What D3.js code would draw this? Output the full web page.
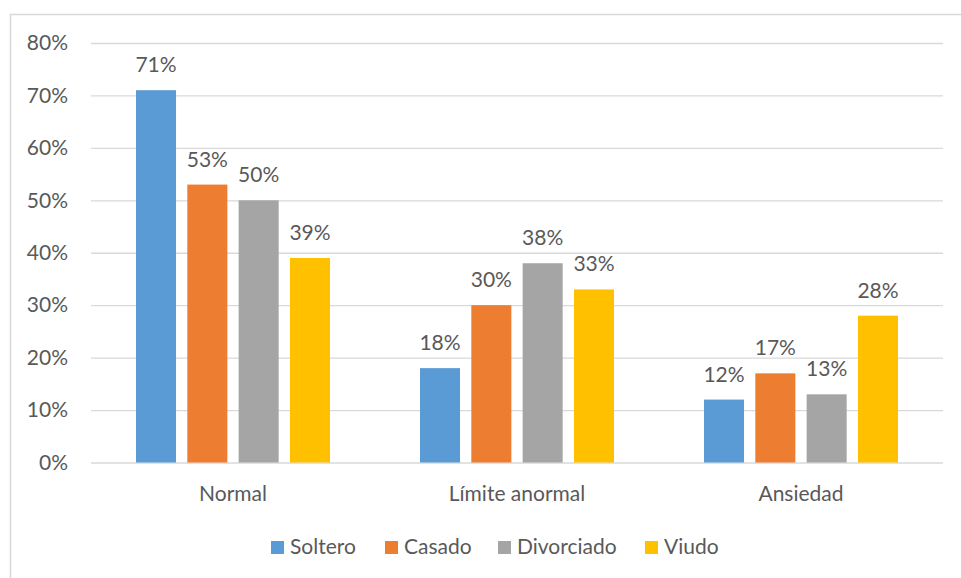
<!DOCTYPE html>
<html>
<head>
<meta charset="utf-8">
<script src="https://cdn.jsdelivr.net/npm/d3@7"></script>
<style>
  html, body { margin: 0; padding: 0; background: #fff; }
  svg { display: block; }
  text { font-family: Lato, "Open Sans", sans-serif; font-weight: 400; fill: #595959; }
</style>
</head>
<body>
<svg id="chart" width="961" height="578"></svg>
<script>
// Categories and series
const categories = ["Normal", "Límite anormal", "Ansiedad"];
const seriesNames = ["Soltero", "Casado", "Divorciado", "Viudo"];
const soltero    = [0.71, 0.18, 0.12];
const casado     = [0.53, 0.30, 0.17];
const divorciado = [0.50, 0.38, 0.13];
const viudo      = [0.39, 0.33, 0.28];
const yTicks = [0, 0.1, 0.2, 0.3, 0.4, 0.5, 0.6, 0.7, 0.8];
const colors = ["#5B9BD5", "#ED7D31", "#A5A5A5", "#FFC000"];

const seriesValues = [soltero, casado, divorciado, viudo];
const rows = categories.map((c, i) => ({
  category: c,
  values: seriesNames.map((s, j) => ({ series: s, value: seriesValues[j][i], idx: j }))
}));

const FONT_SIZE = "21px";
const svg = d3.select("#chart");

// Outer chart frame
svg.append("rect")
  .attr("x", 10.5).attr("y", 14.5)
  .attr("width", 1000).attr("height", 600)
  .attr("fill", "none")
  .attr("stroke", "#D9D9D9")
  .attr("stroke-width", 1.5);

const plot = { left: 91, right: 943, top: 43, bottom: 462.5 };

const y = d3.scaleLinear().domain([0, 0.8]).range([plot.bottom, plot.top]);
const x0 = d3.scaleBand().domain(categories).range([plot.left, plot.right]).padding(0);
const groupW = x0.bandwidth();
const innerPad = 45;
const x1 = d3.scaleBand().domain(seriesNames)
  .range([innerPad, groupW - innerPad])
  .paddingInner(0.22).paddingOuter(0);

// Gridlines and percentage ticks
const yAxis = d3.axisLeft(y)
  .tickValues(yTicks)
  .tickFormat(d3.format(".0%"))
  .tickSize(-(plot.right - plot.left))
  .tickPadding(23);

const gy = svg.append("g")
  .attr("transform", `translate(${plot.left},0)`)
  .call(yAxis);
gy.select(".domain").remove();
gy.selectAll(".tick line").attr("stroke", "#D9D9D9").attr("stroke-width", 1.3);
gy.selectAll(".tick text")
  .attr("fill", "#595959")
  .style("font-size", FONT_SIZE)
  .style("font-family", "Lato, 'Open Sans', sans-serif");

// Bars
const groups = svg.append("g").selectAll("g")
  .data(rows)
  .join("g")
  .attr("transform", d => `translate(${x0(d.category)},0)`);

groups.selectAll("rect")
  .data(d => d.values)
  .join("rect")
  .attr("x", d => x1(d.series))
  .attr("y", d => y(d.value))
  .attr("width", x1.bandwidth())
  .attr("height", d => y(0) - y(d.value))
  .attr("fill", d => colors[d.idx]);

// Value labels
groups.selectAll("text.val")
  .data(d => d.values)
  .join("text")
  .attr("class", "val")
  .attr("x", d => x1(d.series) + x1.bandwidth() / 2)
  .attr("y", d => y(d.value) - 18)
  .attr("text-anchor", "middle")
  .style("font-size", FONT_SIZE)
  .text(d => d3.format(".0%")(d.value));

// Category axis labels
svg.append("g").selectAll("text")
  .data(categories)
  .join("text")
  .attr("x", d => x0(d) + groupW / 2)
  .attr("y", 501)
  .attr("text-anchor", "middle")
  .style("font-size", FONT_SIZE)
  .text(d => d);

// Legend
const legendX = [271, 385, 498, 645];
const legend = svg.append("g").selectAll("g")
  .data(seriesNames)
  .join("g")
  .attr("transform", (d, i) => `translate(${legendX[i]},541)`);
legend.append("rect")
  .attr("width", 13).attr("height", 13)
  .attr("fill", (d, i) => colors[i]);
legend.append("text")
  .attr("x", 19).attr("y", 13)
  .style("font-size", FONT_SIZE)
  .text(d => d);
</script>
</body>
</html>
